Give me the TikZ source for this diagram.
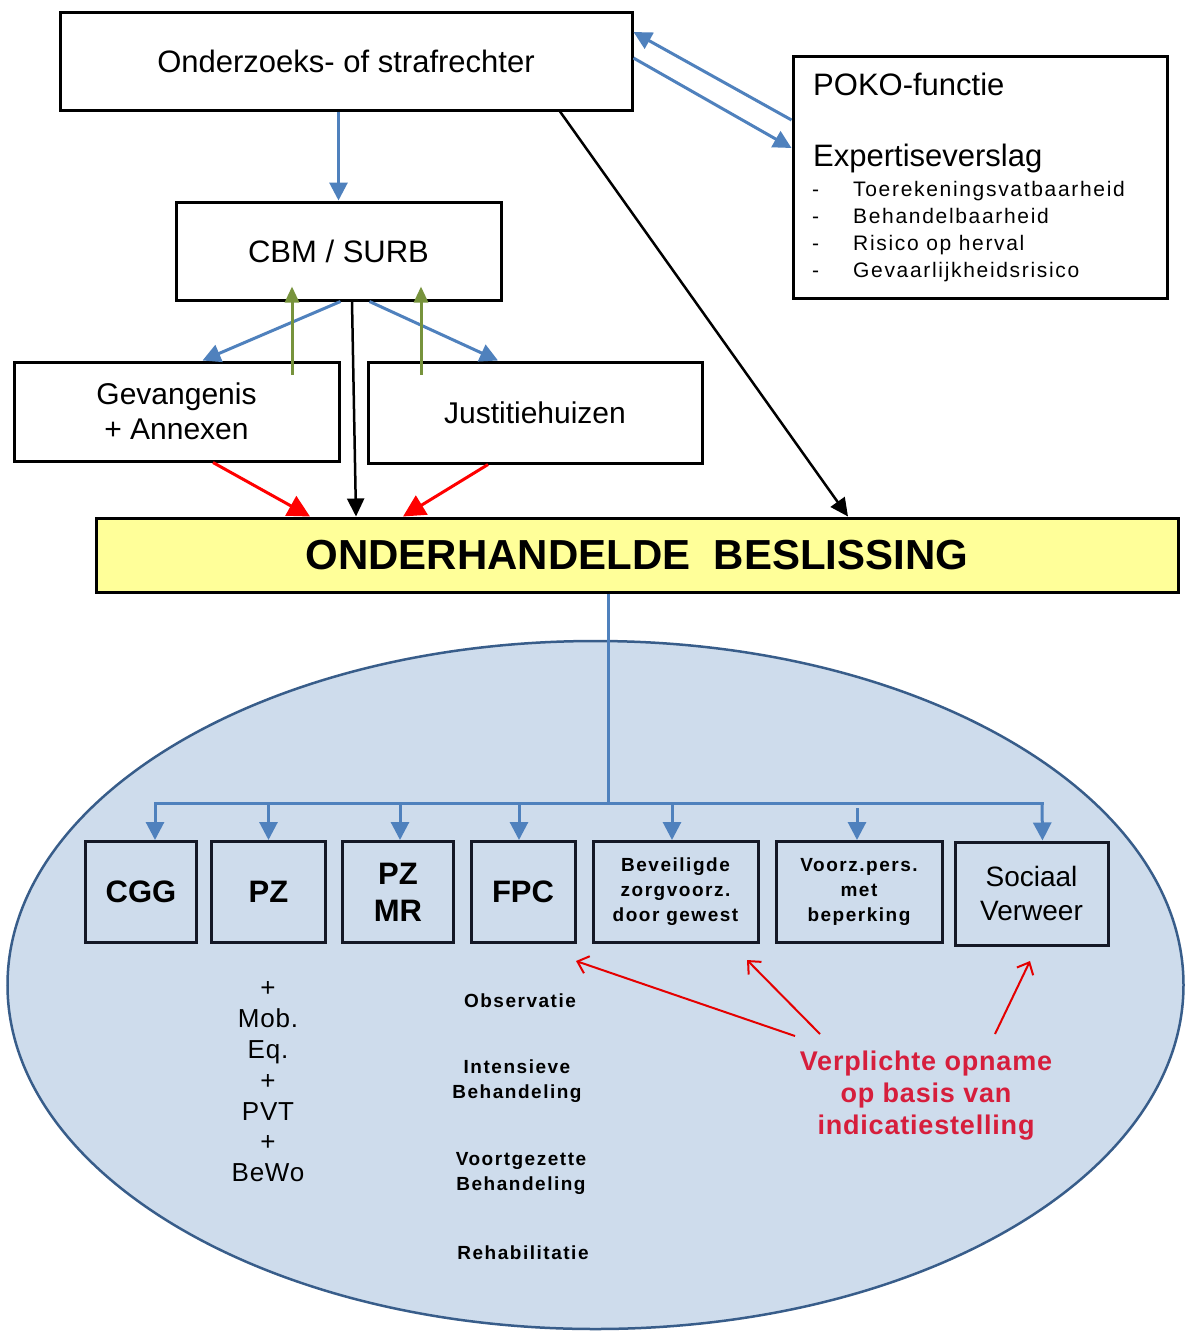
\documentclass[tikz,border=0pt]{standalone}
\usepackage{fontspec}
\setmainfont{Liberation Sans}
\newfontfamily\spacedA[LetterSpace=8]{Liberation Sans}
\newfontfamily\spacedB[LetterSpace=3]{Liberation Sans}
\usetikzlibrary{arrows.meta,shapes.geometric}
\definecolor{arrowblue}{RGB}{79,129,189}
\definecolor{olivegreen}{RGB}{119,147,60}
\definecolor{ellfill}{RGB}{206,220,236}
\definecolor{elldraw}{RGB}{56,93,138}
\definecolor{boxyellow}{RGB}{255,255,153}
\definecolor{redtext}{RGB}{214,30,60}
\definecolor{navyline}{RGB}{20,24,38}
\newcommand{\fsz}[2]{\fontsize{#1}{#2}\selectfont}
\begin{document}
\begin{tikzpicture}[x=1pt,y=-1pt,
  box/.style={draw=black,line width=3pt,inner sep=0pt,align=center},
  rowbox/.style={draw=navyline,line width=3pt,inner sep=0pt,align=center,minimum height=101pt},
  bluearr/.style={draw=arrowblue,line width=3pt,-{Triangle[length=18pt,width=18pt]},fill=arrowblue},
  blueline/.style={draw=arrowblue,line width=3pt},
  greenarr/.style={draw=olivegreen,line width=3pt,-{Triangle[length=16pt,width=14pt]},fill=olivegreen},
  redarr/.style={draw=red,line width=3pt,-{Triangle[length=22pt,width=22pt]},fill=red},
  blackarr/.style={draw=black,line width=2.5pt,-{Triangle[length=18pt,width=17pt]}},
  thinred/.style={draw=red!90!black,line width=2pt,-{Straight Barb[length=10pt,width=18pt]}},
  lbl/.style={inner sep=0pt,align=center},
  smallbold/.style={font={\fsz{19}{25}\spacedA\bfseries}}
]
\fill[white] (0,0) rectangle (1185,1331);
\useasboundingbox (0,0) rectangle (1185,1331);

% ellipse
\draw[fill=ellfill,draw=elldraw,line width=2.5pt] (595.5,985) ellipse [x radius=588, y radius=344];

% top part
\node[box,minimum width=572pt,minimum height=98pt,font=\fsz{31}{36}] (judge) at (346,61) {Onderzoeks- of strafrechter};
\node[box,minimum width=374pt,minimum height=242pt] (poko) at (980,177) {};
\node[anchor=base west,inner sep=0pt,font=\fsz{31}{36}] (pokot) at (813,95) {POKO-functie};
\node[anchor=base west,inner sep=0pt,font=\fsz{31}{36}] (expt) at (813,166) {Expertiseverslag};
\node[anchor=base west,inner sep=0pt,font=\fsz{21}{25}] (d1) at (812,196) {-};
\node[anchor=base west,inner sep=0pt,font=\fsz{21}{25}] (d2) at (812,223) {-};
\node[anchor=base west,inner sep=0pt,font=\fsz{21}{25}] (d3) at (812,250) {-};
\node[anchor=base west,inner sep=0pt,font=\fsz{21}{25}] (d4) at (812,277) {-};
\node[anchor=base west,inner sep=0pt,font={\fsz{21}{25}\spacedA}] (i1) at (853,196) {Toerekeningsvatbaarheid};
\node[anchor=base west,inner sep=0pt,font={\fsz{21}{25}\spacedA}] (i2) at (853,223) {Behandelbaarheid};
\node[anchor=base west,inner sep=0pt,font={\fsz{21}{25}\spacedA}] (i3) at (853,250) {Risico op herval};
\node[anchor=base west,inner sep=0pt,font={\fsz{21}{25}\spacedA}] (i4) at (853,277) {Gevaarlijkheidsrisico};

\node[box,minimum width=325pt,minimum height=98pt,font=\fsz{31}{36}] (cbm) at (338.5,251) {CBM / SURB};
\node[box,minimum width=325pt,minimum height=99pt,font=\fsz{30}{35}] (gev) at (176.5,411.5) {Gevangenis\\+ Annexen};
\node[box,minimum width=334pt,minimum height=101pt,font=\fsz{30}{35}] (just) at (535,412.5) {Justitiehuizen};
\node[box,fill=boxyellow,minimum width=1082pt,minimum height=74pt,font={\fsz{42}{48}\bfseries}] (besl) at (637,555) {ONDERHANDELDE\ \ BESLISSING};

% top connectors
\draw[bluearr] (judge.south -| cbm.north) -- (cbm.north);
\draw[bluearr] ([yshift=57pt]poko.west) -- ([yshift=29pt]judge.east);
\draw[bluearr] ([yshift=3pt]judge.east) -- ([yshift=29pt]poko.west);
\draw[blackarr] ([xshift=214pt]judge.south) -- ([xshift=211pt]besl.north);
\draw[bluearr] ([xshift=2pt]cbm.south) -- ([xshift=26pt]gev.north);
\draw[bluearr] ([xshift=31pt]cbm.south) -- ([xshift=-37pt]just.north);
\draw[greenarr] ([xshift=115.5pt,yshift=-14pt]gev.north) -- ([xshift=-46.5pt,yshift=15pt]cbm.south);
\draw[greenarr] ([xshift=-114pt,yshift=-14pt]just.north) -- ([xshift=82.5pt,yshift=15pt]cbm.south);
\draw[blackarr] ([xshift=13.5pt]cbm.south) -- ([xshift=-281pt]besl.north);
\draw[redarr] ([xshift=36.5pt]gev.south) -- ([xshift=-327pt]besl.north);
\draw[redarr] ([xshift=-47pt]just.south) -- ([xshift=-234pt]besl.north);

% bottom row boxes
\node[rowbox,minimum width=111pt,font={\fsz{31}{36}\bfseries}] (cgg) at (141,892) {CGG};
\node[rowbox,minimum width=114pt,font={\fsz{31}{36}\bfseries}] (pz) at (268.5,892) {PZ};
\node[rowbox,minimum width=111pt,font={\fsz{31}{37}\bfseries}] (pzmr) at (398,892) {PZ\\MR};
\node[rowbox,minimum width=104pt,font={\fsz{31}{36}\bfseries}] (fpc) at (523,892) {FPC};
\node[rowbox,minimum width=165pt,smallbold] (bev) at (675.5,892) {Beveiligde\\zorgvoorz.\\door gewest};
\node[rowbox,minimum width=166pt,smallbold] (voorz) at (859,892) {Voorz.pers.\\met\\beperking};
\node[rowbox,minimum width=153pt,minimum height=103pt,font=\fsz{28}{34}] (soc) at (1031.5,893.5) {Sociaal\\Verweer};

% bus
\coordinate (hub) at (608,803);
\coordinate (busL) at (155,803);
\coordinate (busR) at (1042,803);
\draw[blueline] ([xshift=-29pt]besl.south) -- (hub);
\draw[blueline,line cap=rect] (busL) -- (busR);
\draw[bluearr] (busL) -- ([xshift=14pt]cgg.north);
\draw[bluearr] (pz.north |- hub) -- (pz.north);
\draw[bluearr] ([xshift=2pt]pzmr.north |- hub) -- ([xshift=2pt]pzmr.north);
\draw[bluearr] ([xshift=-4pt]fpc.north |- hub) -- ([xshift=-4pt]fpc.north);
\draw[bluearr] ([xshift=-3.5pt]bev.north |- hub) -- ([xshift=-3.5pt]bev.north);
\coordinate (vstart) at (857,808);
\draw[bluearr] (vstart) -- ([xshift=-2pt]voorz.north);
\draw[bluearr] (busR) -- ([xshift=11pt]soc.north);

% texts in ellipse
\node[lbl,font={\fsz{26}{30.8}\spacedB}] (pzextra) at (268,1082) {+\\Mob.\\Eq.\\+\\PVT\\+\\BeWo};
\node[lbl,smallbold] (obs) at (520,1001) {Observatie};
\node[lbl,smallbold] (inten) at (517,1081.5) {Intensieve\\Behandeling};
\node[lbl,smallbold] (voort) at (521,1173.5) {Voortgezette\\Behandeling};
\node[lbl,smallbold] (rehab) at (523,1253) {Rehabilitatie};
\node[lbl,text=redtext,font={\fsz{27}{32}\spacedB\bfseries}] (verpl) at (926,1096) {Verplichte opname\\op basis van\\indicatiestelling};

% red thin arrows
\coordinate (r1s) at (795,1036);
\coordinate (r2s) at (820,1034);
\coordinate (r3s) at (995,1034);
\coordinate (r1e) at (576,961);
\coordinate (r2e) at (747,960);
\coordinate (r3e) at (1030,961);
\draw[thinred] (r1s) -- (r1e);
\draw[thinred] (r2s) -- (r2e);
\draw[thinred] (r3s) -- (r3e);
\end{tikzpicture}
\end{document}
